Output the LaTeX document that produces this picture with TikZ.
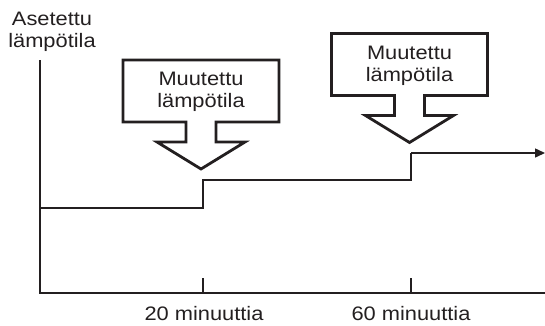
\documentclass[tikz,border=0pt]{standalone}
\usepackage{fontspec}
\setmainfont{Liberation Sans}[FakeStretch=1.12]
\usetikzlibrary{arrows.meta,positioning,calc}

\definecolor{ink}{HTML}{231F20}

\begin{document}
\begin{tikzpicture}[x=1pt, y=-1pt,
    axis/.style={ink, line width=2.4pt},
    level/.style={ink, line width=1.5pt},
    callout/.style={ink, line width=2.8pt, fill=white, line join=miter},
    lbl/.style={font=\fontsize{19.5}{22}\selectfont, text=ink, align=center, inner sep=0pt},
    arr/.style={-{Triangle[length=10pt, width=9pt]}}
]
\useasboundingbox (0,0) rectangle (545,325);

% axes
\coordinate (top) at (40,60);
\coordinate (o) at (40,293);
\coordinate (xend) at (545,293);
\draw[axis] (top) -- (o) -- (xend);

% ticks
\coordinate (t1) at (203,293);
\coordinate (t2) at (411,293);
\draw[axis, line width=1.5pt] (t1) -- ++(0,-15);
\draw[axis, line width=1.5pt] (t2) -- ++(0,-15);
\node[lbl] (m20) at (204,314) {20 minuuttia};
\node[lbl] (m60) at (411,314) {60 minuuttia};

% y label
\node[lbl] (ylab) at (52,32) {Asetettu\\lämpötila};

% set temperature
\coordinate (s0) at (40,208);
\coordinate (s1) at (203,208);
\coordinate (s2) at (203,180);
\coordinate (s3) at (411,180);
\coordinate (s4) at (411,153);
\coordinate (s5) at (545,153);
\draw[level] (s0) -- (s1) -- (s2) -- (s3) -- (s4);
\draw[level, arr] (s4) -- (s5);

% callouts
\coordinate (c1) at (201,91);
\draw[callout] ($(c1)+(-78,-31)$) -- ++(156,0) -- ++(0,62) -- ++(-63,0)
    -- ++(0,20) -- ++(29,0) -- ++(-44,27) -- ++(-44,-27) -- ++(29,0)
    -- ++(0,-20) -- ++(-63,0) -- cycle;
\node[lbl] (u1) at ($(c1)+(0,1)$) {Muutettu\\lämpötila};

\coordinate (c2) at (409.5,64.5);
\draw[callout] ($(c2)+(-78,-31)$) -- ++(156,0) -- ++(0,62) -- ++(-63,0)
    -- ++(0,20) -- ++(29,0) -- ++(-44,27) -- ++(-44,-27) -- ++(29,0)
    -- ++(0,-20) -- ++(-63,0) -- cycle;
\node[lbl] (u2) at ($(c2)+(0,1)$) {Muutettu\\lämpötila};
\end{tikzpicture}
\end{document}
